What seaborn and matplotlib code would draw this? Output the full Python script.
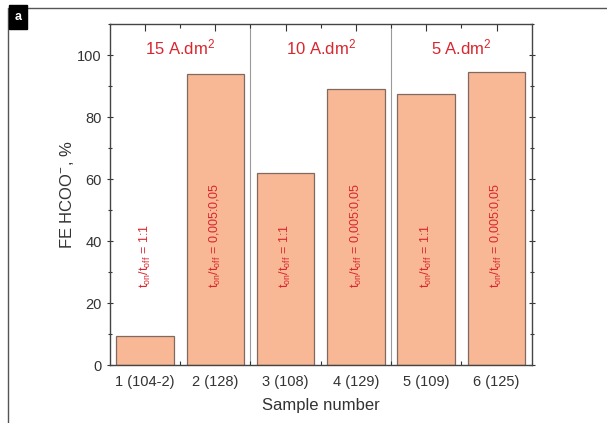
import matplotlib
matplotlib.use('Agg')
import matplotlib.pyplot as plt
import seaborn as sns
from matplotlib.lines import Line2D
from matplotlib.ticker import MultipleLocator, FixedLocator

samples = ['1 (104-2)', '2 (128)', '3 (108)', '4 (129)', '5 (109)', '6 (125)']
fe_hcoo = [9.5, 94.0, 62.0, 89.0, 87.5, 94.5]
ratio_labels = [r'$t_{on}/t_{off}$ = 1:1', r'$t_{on}/t_{off}$ = 0,005:0,05'] * 3
groups = ['15 A.dm$^2$', '10 A.dm$^2$', '5 A.dm$^2$']

sns.set_theme(style='white')
plt.rcParams['font.family'] = ['Liberation Sans', 'DejaVu Sans']
plt.rcParams['mathtext.default'] = 'regular'

RED = '#d8262e'
BAR = '#f8b795'
EDGE = '#806a60'

fig = plt.figure(figsize=(6.07, 4.23), dpi=100)
ax = fig.add_axes([0.181, 0.137, 0.695, 0.806])

sns.barplot(x=samples, y=fe_hcoo, color=BAR, saturation=1, width=0.82,
            edgecolor=EDGE, linewidth=0.9, ax=ax)

ax.set_xlim(-0.5, 5.5)
ax.set_ylim(0, 110)

# separators between current density groups
for xs in [1.5, 3.5]:
    ax.axvline(xs, color='#9a9a9a', lw=0.8, zorder=0)

for i, g in enumerate(groups):
    ax.text(2 * i + 0.5, 102.5, g, color=RED, fontsize=12, ha='center', va='center')

for i, lab in enumerate(ratio_labels):
    ax.text(i, 25, lab, color=RED, fontsize=9, rotation=90, ha='center', va='bottom')

ax.yaxis.set_major_locator(MultipleLocator(20))
ax.yaxis.set_minor_locator(MultipleLocator(10))
ax.xaxis.set_minor_locator(FixedLocator([0.5, 1.5, 2.5, 3.5, 4.5]))
ax.tick_params(axis='both', which='both', direction='in', top=True, right=True,
               bottom=True, left=True, colors='#333333', labelcolor='#333333')
ax.tick_params(axis='both', which='major', length=5, width=0.8, labelsize=10.5)
ax.tick_params(axis='both', which='minor', length=3, width=0.8)
ax.tick_params(axis='y', which='both', direction='inout')
ax.tick_params(axis='x', which='major', pad=7)

for s in ax.spines.values():
    s.set_visible(True)
    s.set_color('#444444')
    s.set_linewidth(1.0)

ax.set_xlabel('Sample number', fontsize=12, color='#333333', labelpad=7)
ax.set_ylabel('FE HCOO$^{-}$, %', fontsize=12, color='#333333', labelpad=1)

# outer panel frame and label
fig.add_artist(Line2D([8 / 607, 1], [1 - 8 / 423, 1 - 8 / 423], color='#555555', lw=1.0))
fig.add_artist(Line2D([8 / 607, 8 / 607], [0, 1 - 8 / 423], color='#555555', lw=1.0))
fig.text(18 / 607, 1 - 17 / 423, 'a', color='white', fontsize=9, fontweight='bold',
         ha='center', va='center',
         bbox=dict(boxstyle='square,pad=0.45', facecolor='black', edgecolor='black'))

plt.savefig('out.png', dpi=100)
